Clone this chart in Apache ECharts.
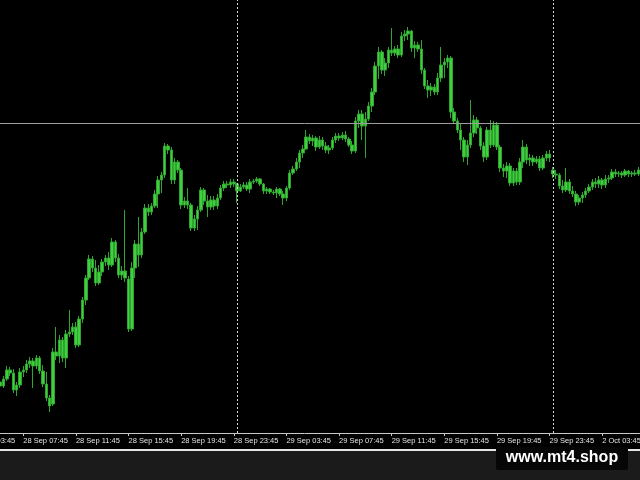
<!DOCTYPE html>
<html>
<head>
<meta charset="utf-8">
<script src="https://cdn.jsdelivr.net/npm/echarts@6/dist/echarts.min.js"></script>
<style>
html,body{margin:0;padding:0;background:#000;width:640px;height:480px;overflow:hidden;position:relative;}
#c{position:absolute;left:-31px;top:0;width:671px;height:480px;}
</style>
</head>
<body>
<div id="c"></div>
<script>
// M15 bars, prices in points (chart has no visible price scale)
const sessions = [['28 Sep', '03:45', '23:45'], ['29 Sep', '00:00', '23:45'], ['2 Oct', '00:00', '06:30']];
const leadingEmpty = 9; // 03:45 .. 05:45 on 28 Sep scroll off the left edge (only the label shows)
const tickLabels = ['28 Sep 03:45', '28 Sep 07:45', '28 Sep 11:45', '28 Sep 15:45', '28 Sep 19:45', '28 Sep 23:45',
  '29 Sep 03:45', '29 Sep 07:45', '29 Sep 11:45', '29 Sep 15:45', '29 Sep 19:45', '29 Sep 23:45', '2 Oct 03:45'];
const separators = ['29 Sep 00:00', '2 Oct 00:00'];
const levelLine = 310;
const watermark = 'www.mt4.shop';

const open = [
  51,47,54,63,60,43,48,61,63,69, 72,67,75,62,49,35,29,81,77,93,
  75,99,101,106,88,114,133,155,174,165, 150,161,171,175,168,191,175,158,162,154,
  104,165,189,178,201,225,221,227,239,253, 258,287,283,253,271,263,228,232,228,205,
  214,223,243,232,226,233,227,235,245,249, 248,251,249,242,246,248,244,251,252,254,
  249,242,244,241,240,244,239,235,245,260, 264,271,280,284,296,292,295,286,293,287,
  283,285,293,297,295,298,294,288,282,312, 319,307,314,327,341,367,381,363,370,383,
  380,384,378,397,399,402,385,388,384,363, 347,343,346,341,355,368,371,375,321,312,
  303,293,276,288,300,313,305,287,276,303, 288,308,286,265,262,267,250,262,251,271,
  286,273,275,271,274,265,275,279,263,259, 258,247,243,251,242,239,231,235,238,242,
  246,251,249,253,248,254,255,261,259,260, 258,262,259,260,259
];
const close = [
  47,54,63,60,43,48,61,63,69,72, 67,75,62,49,35,27,81,77,93,75,
  99,101,106,88,114,133,155,174,165,150, 161,171,175,168,191,175,158,162,155,104,
  165,189,178,201,225,221,227,239,253,258, 287,283,253,271,263,228,232,228,205,214,
  223,243,232,226,233,227,235,245,249,248, 251,249,242,246,248,244,251,252,254,249,
  242,244,241,240,244,239,235,245,260,264, 271,280,284,296,292,295,286,293,287,283,
  285,293,297,295,298,294,288,282,312,319, 307,314,327,341,367,381,363,370,383,380,
  384,378,397,399,402,385,388,384,363,347, 343,346,341,355,368,371,375,321,312,303,
  293,276,288,300,313,305,287,276,303,288, 308,286,265,262,267,250,262,251,271,286,
  273,275,271,274,265,275,279,275,259,258, 247,243,251,242,239,231,235,238,242,246,
  251,249,253,248,254,255,261,259,260,258, 262,259,260,259,263
];
const low = [
  44,45,52,57,40,37,45,56,60,65, 45,64,59,46,32,21,27,73,70,71,
  65,96,98,85,86,110,128,153,161,147, 148,157,167,163,166,171,155,153,151,101,
  102,155,166,175,199,217,218,225,225,240, 255,279,249,249,260,224,225,224,202,202,
  203,221,228,216,223,223,224,233,242,245, 245,246,230,241,244,242,240,249,250,247,
  239,239,239,238,235,237,228,232,243,258, 262,265,275,283,289,287,282,284,283,280,
  279,283,290,292,293,291,286,279,280,305, 293,275,312,321,338,354,359,357,365,377,
  377,375,376,392,393,381,375,381,359,344, 335,337,338,338,351,355,365,315,309,300,
  283,271,268,285,296,299,283,271,273,285, 286,283,261,256,255,247,247,248,248,265,
  269,267,267,269,262,263,272,271,255,254, 244,240,241,239,236,227,228,230,235,240,
  243,245,245,244,245,250,253,256,256,255, 256,256,256,257,257
];
const high = [
  55,57,67,66,64,51,65,67,73,76, 75,78,77,68,61,38,85,106,98,96,
  103,123,110,111,117,136,158,178,177,173, 168,174,178,181,195,193,179,167,223,157,
  171,193,216,205,229,229,230,243,257,261, 290,289,286,275,273,265,236,245,230,218,
  227,246,245,238,237,237,239,248,252,252, 254,254,250,249,251,251,254,254,256,255,
  250,246,245,243,246,245,242,247,263,267, 275,283,288,303,299,298,297,297,296,291,
  288,296,300,300,301,302,296,292,316,323, 323,321,331,345,371,386,383,375,386,405,
  387,388,401,403,406,403,392,391,393,365, 353,350,349,360,386,375,378,377,325,315,
  309,296,293,333,318,316,307,291,306,313, 312,311,288,269,271,270,265,265,275,293,
  289,279,278,277,277,278,282,283,266,263, 260,253,265,254,247,242,238,241,245,249,
  254,255,257,255,258,258,264,264,262,262, 264,263,262,263,266
];

// category labels: 15-minute bars within each session
function toMin(s) { const p = s.split(':'); return +p[0] * 60 + +p[1]; }
function pad(n) { return (n < 10 ? '0' : '') + n; }
const categories = [];
sessions.forEach(function (s) {
  for (let m = toMin(s[1]); m <= toMin(s[2]); m += 15) {
    categories.push(s[0] + ' ' + pad(Math.floor(m / 60)) + ':' + pad(m % 60));
  }
});
const ohlc = [];
for (let i = 0; i < leadingEmpty; i++) ohlc.push('-');
for (let i = 0; i < open.length; i++) ohlc.push([open[i], close[i], low[i], high[i]]);

const tickSet = new Set(tickLabels);
const showTick = function (idx, val) { return tickSet.has(val); };
const off = 31; // container is shifted left by this many px

const chart = echarts.init(document.getElementById('c'), null, { renderer: 'canvas' });
chart.setOption({
  backgroundColor: '#000000',
  animation: false,
  grid: { left: 0, right: 0, top: 0, bottom: 47, containLabel: false, outerBoundsMode: 'none' },
  xAxis: {
    type: 'category',
    data: categories,
    boundaryGap: true,
    axisLine: { show: true, lineStyle: { color: '#c8c8c8', width: 1 } },
    axisTick: { show: true, alignWithLabel: true, interval: showTick, length: 3, lineStyle: { color: '#c8c8c8' } },
    axisLabel: {
      show: true, interval: showTick, align: 'left', margin: 4,
      color: '#e4e4e4', fontFamily: 'Liberation Sans', fontSize: 7.5, padding: [0, 0, 0, 0]
    },
    splitLine: { show: false }
  },
  yAxis: { type: 'value', min: 0, max: 433, show: false, splitLine: { show: false } },
  series: [{
    type: 'candlestick',
    data: ohlc,
    barWidth: 3,
    itemStyle: { color: '#3fcf3f', color0: '#3fcf3f', borderColor: '#2fa52f', borderColor0: '#2fa52f', borderWidth: 1 },
    markLine: {
      silent: true, symbol: ['none', 'none'], label: { show: false }, animation: false,
      data: [
        { yAxis: levelLine, lineStyle: { color: '#9c9c9c', type: 'solid', width: 1 } }
      ].concat(separators.map(function (s) {
        return { xAxis: s, lineStyle: { color: '#d8d8d8', type: [2, 2], width: 1 } };
      }))
    }
  }],
  graphic: [
    { type: 'rect', shape: { x: off, y: 451, width: 640, height: 29 }, style: { fill: '#1b1b1b' }, z: 10 },
    { type: 'rect', shape: { x: off, y: 449, width: 640, height: 2 }, style: { fill: '#e6e6e6' }, z: 10 },
    { type: 'rect', shape: { x: off + 496, y: 447, width: 132, height: 23, r: 2 }, style: { fill: '#060606' }, z: 11 },
    { type: 'text', x: off + 562, y: 458, style: { text: watermark, fill: '#ffffff', font: 'bold 16px "Liberation Sans"', align: 'center', verticalAlign: 'middle' }, z: 12 }
  ]
});
</script>
</body>
</html>
